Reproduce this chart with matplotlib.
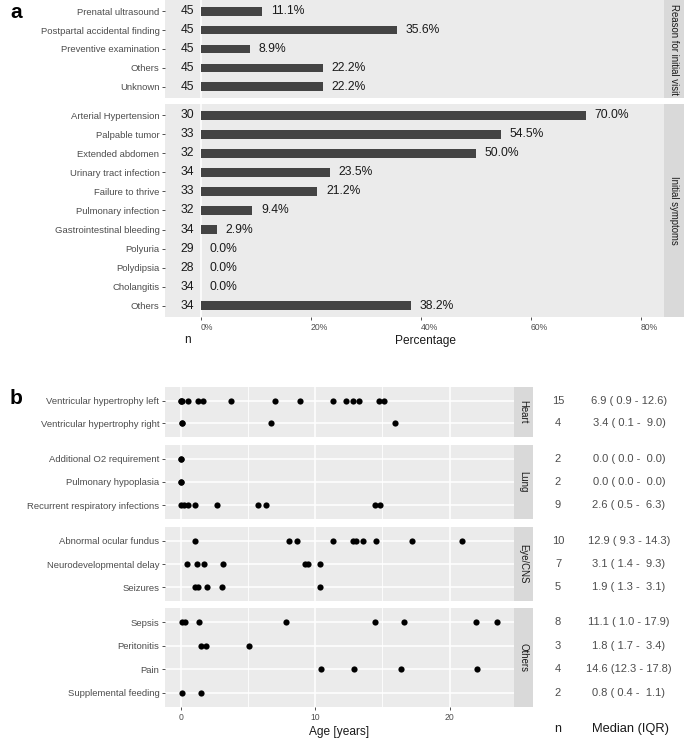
import numpy as np
import matplotlib
matplotlib.use("Agg")
import matplotlib.pyplot as plt
from matplotlib.transforms import blended_transform_factory

plt.rcParams['font.family'] = ['Liberation Sans', 'DejaVu Sans']

W, H = 685, 741

# ---- panel a data ----
visit_labels = ['Prenatal ultrasound', 'Postpartal accidental finding', 'Preventive examination',
                'Others', 'Unknown']
visit_n = [45, 45, 45, 45, 45]
visit_pct = [11.1, 35.6, 8.9, 22.2, 22.2]

symptom_labels = ['Arterial Hypertension', 'Palpable tumor', 'Extended abdomen', 'Urinary tract infection',
                  'Failure to thrive', 'Pulmonary infection', 'Gastrointestinal bleeding', 'Polyuria',
                  'Polydipsia', 'Cholangitis', 'Others']
symptom_n = [30, 33, 32, 34, 33, 32, 34, 29, 28, 34, 34]
symptom_pct = [70.0, 54.5, 50.0, 23.5, 21.2, 9.4, 2.9, 0.0, 0.0, 0.0, 38.2]

pct_ticks = [0, 20, 40, 60, 80]

# ---- panel b data ----
heart_labels = ['Ventricular hypertrophy left', 'Ventricular hypertrophy right']
heart_ages = [[0.0, 0.0, 0.1, 0.55, 1.24, 1.66, 3.72, 6.96, 8.85, 11.28, 12.27, 12.81, 13.26, 14.72, 15.09],
              [0.1, 0.1, 6.7, 15.9]]
heart_n = ['15', '4']
heart_med = ['6.9 ( 0.9 - 12.6)', '3.4 ( 0.1 -  9.0)']

lung_labels = ['Additional O2 requirement', 'Pulmonary hypoplasia', 'Recurrent respiratory infections']
lung_ages = [[0.0, 0.0],
             [0.0, 0.0],
             [0.0, 0.25, 0.55, 1.05, 2.65, 5.7, 6.3, 14.45, 14.8]]
lung_n = ['2', '2', '9']
lung_med = ['0.0 ( 0.0 -  0.0)', '0.0 ( 0.0 -  0.0)', '2.6 ( 0.5 -  6.3)']

eye_labels = ['Abnormal ocular fundus', 'Neurodevelopmental delay', 'Seizures']
eye_ages = [[1.07, 8.05, 8.6, 11.28, 12.81, 13.0, 13.56, 14.52, 17.22, 20.9],
            [0.42, 1.16, 1.69, 3.1, 9.22, 9.47, 10.36],
            [1.07, 1.29, 1.93, 3.05, 10.36]]
eye_n = ['10', '7', '5']
eye_med = ['12.9 ( 9.3 - 14.3)', '3.1 ( 1.4 -  9.3)', '1.9 ( 1.3 -  3.1)']

other_labels = ['Sepsis', 'Peritonitis', 'Pain', 'Supplemental feeding']
other_ages = [[0.1, 0.3, 1.3, 7.83, 14.47, 16.6, 22.0, 23.54],
              [1.49, 1.83, 5.08],
              [10.4, 12.9, 16.4, 22.06],
              [0.05, 1.5]]
other_n = ['8', '3', '4', '2']
other_med = ['11.1 ( 1.0 - 17.9)', '1.8 ( 1.7 -  3.4)', '14.6 (12.3 - 17.8)', '0.8 ( 0.4 -  1.1)']

age_ticks = [0, 10, 20]

PANEL = '#EBEBEB'
STRIP = '#D9D9D9'
DARK = '#1A1A1A'
GREY = '#4D4D4D'

fig = plt.figure(figsize=(W / 100, H / 100), dpi=100)


def px_axes(left, top, right, bottom):
    return fig.add_axes([left / W, 1 - bottom / H, (right - left) / W, (bottom - top) / H])


def clean(ax):
    for s in ax.spines.values():
        s.set_visible(False)


def strip(left, top, right, bottom, text):
    ax = px_axes(left, top, right, bottom)
    ax.set_facecolor(STRIP)
    ax.set_xticks([])
    ax.set_yticks([])
    clean(ax)
    ax.text(0.5, 0.5, text, rotation=-90, ha='center', va='center', fontsize=6.9,
            color=DARK, transform=ax.transAxes)


def bar_facet(top, bottom, labels, ns, pcts, show_x):
    ax = px_axes(165, top, 664, bottom)
    y = np.arange(len(labels))
    ax.set_facecolor(PANEL)
    ax.axvline(0, color='white', lw=1.1, zorder=1)
    ax.barh(y, pcts, height=0.46, color='#444444', linewidth=0, zorder=2)
    for yi, n, p in zip(y, ns, pcts):
        ax.text(-2.4, yi, str(n), ha='center', va='center', fontsize=8.7, color=DARK)
        ax.text(p + 1.6, yi, f'{p:.1f}%', ha='left', va='center', fontsize=8.7, color=DARK)
    ax.set_xlim(-6.5, 84.2)
    ax.set_ylim(len(labels) - 0.4, -0.6)
    ax.set_yticks(y)
    ax.set_yticklabels(labels, fontsize=6.8, color=GREY)
    ax.tick_params(axis='y', length=2.5, width=0.6, color='#333333', pad=1.5)
    if show_x:
        ax.set_xticks(pct_ticks)
        ax.set_xticklabels([f'{t}%' for t in pct_ticks], fontsize=6.2, color=GREY, ha='left')
        ax.tick_params(axis='x', length=2.5, width=0.6, color='#333333', pad=2)
        ax.set_xlabel('Percentage', fontsize=8.6, color=DARK)
        ax.xaxis.set_label_coords((425 - 165) / 499, -0.085)
        ax.annotate('n', xy=(-2.4, 0), xycoords=('data', 'axes fraction'), xytext=(0, -16.5),
                    textcoords='offset points', ha='center', va='center', fontsize=8.6, color=DARK)
    else:
        ax.set_xticks([])
    clean(ax)
    return ax


def dot_facet(top, bottom, labels, ages, ns, meds, show_x):
    ax = px_axes(165, top, 514, bottom)
    y = np.arange(len(labels))
    ax.set_facecolor(PANEL)
    ax.set_axisbelow(True)
    ax.set_xticks(age_ticks)
    ax.set_xticks([5, 15], minor=True)
    ax.set_yticks(y)
    ax.grid(True, which='major', color='white', lw=1.1)
    ax.grid(True, which='minor', axis='x', color='white', lw=0.6)
    for yi, a in zip(y, ages):
        ax.scatter(a, [yi] * len(a), s=20, color='black', linewidths=0, zorder=3)
    ax.set_xlim(-1.2, 24.8)
    ax.set_ylim(len(labels) - 0.4, -0.6)
    ax.set_yticklabels(labels, fontsize=6.8, color=GREY)
    ax.tick_params(axis='y', length=2.5, width=0.6, color='#333333', pad=1.5)
    ax.tick_params(axis='x', which='minor', length=0)
    if show_x:
        ax.set_xticklabels([str(t) for t in age_ticks], fontsize=6.2, color=GREY)
        ax.tick_params(axis='x', which='major', length=2.5, width=0.6, color='#333333', pad=2)
        ax.set_xlabel('Age [years]', fontsize=8.6, color=DARK, labelpad=3)
    else:
        ax.tick_params(axis='x', which='major', length=0, labelbottom=False)
    clean(ax)
    trans = blended_transform_factory(fig.transFigure, ax.transData)
    for yi, n, m in zip(y, ns, meds):
        ax.text(558 / W, yi, n, transform=trans, ha='center', va='center', fontsize=8, color=GREY)
        ax.text(629 / W, yi, m, transform=trans, ha='center', va='center', fontsize=8, color=GREY)
    return ax


# ---- panel a ----
bar_facet(0, 98, visit_labels, visit_n, visit_pct, False)
strip(664, 0, 684, 98, 'Reason for initial visit')
bar_facet(104, 317, symptom_labels, symptom_n, symptom_pct, True)
strip(664, 104, 684, 317, 'Initial symptoms')

# ---- panel b ----
dot_facet(387, 437, heart_labels, heart_ages, heart_n, heart_med, False)
strip(514, 387, 533, 437, 'Heart')
dot_facet(445, 519, lung_labels, lung_ages, lung_n, lung_med, False)
strip(514, 445, 533, 519, 'Lung')
dot_facet(527, 601, eye_labels, eye_ages, eye_n, eye_med, False)
strip(514, 527, 533, 601, 'Eye/CNS')
axb = dot_facet(608, 707, other_labels, other_ages, other_n, other_med, True)
strip(514, 608, 533, 707, 'Others')

fig.text(558 / W, 1 - 729 / H, 'n', ha='center', va='center', fontsize=9, color=DARK)
fig.text(630 / W, 1 - 729 / H, 'Median (IQR)', ha='center', va='center', fontsize=9.3, color=DARK)

fig.text(10 / W, 1 - 12 / H, 'a', ha='left', va='center', fontsize=15, fontweight='bold')
fig.text(10 / W, 1 - 398 / H, 'b', ha='left', va='center', fontsize=15, fontweight='bold')

fig.savefig('out.png', dpi=100)
